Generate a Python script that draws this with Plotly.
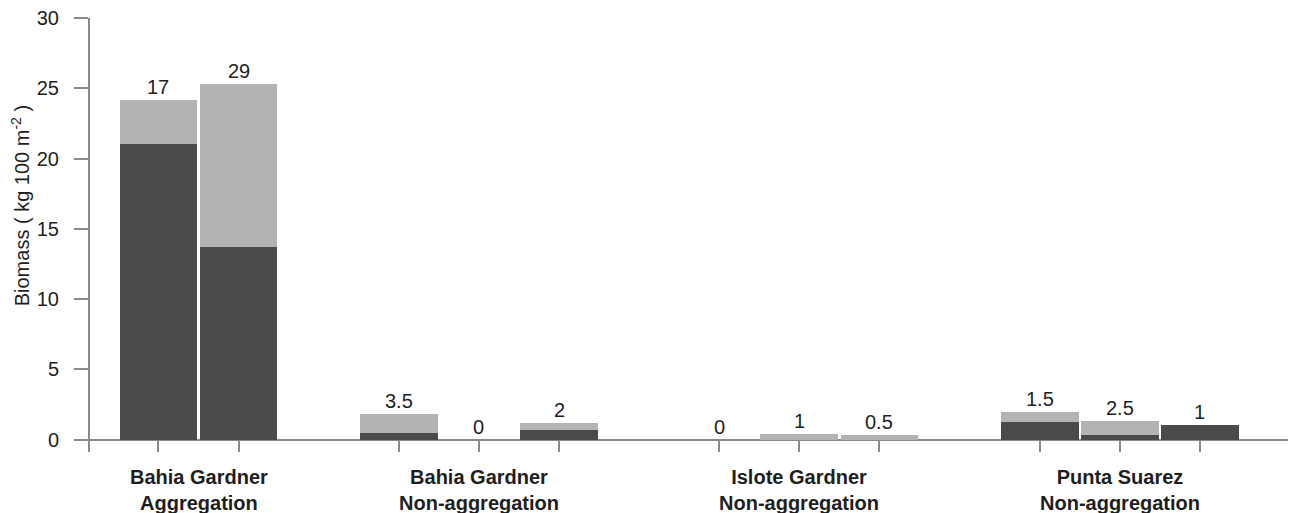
import plotly.graph_objects as go

# ---- data ----
group_labels = ["Bahia Gardner<br>Aggregation", "Bahia Gardner<br>Non-aggregation",
                "Islote Gardner<br>Non-aggregation", "Punta Suarez<br>Non-aggregation"]
bars_per_group = [2, 3, 3, 3]
dark_values = [21.05, 13.7, 0.48, 0.0, 0.65, 0.0, 0.0, 0.0, 1.25, 0.33, 1.0]
light_values = [3.1, 11.6, 1.32, 0.0, 0.5, 0.0, 0.41, 0.32, 0.7, 1.02, 0.0]
bar_labels = ["17", "29", "3.5", "0", "2", "0", "1", "0.5", "1.5", "2.5", "1"]
y_ticks = [0, 5, 10, 15, 20, 25, 30]

# ---- positions (one empty slot between groups) ----
xpos = []
group_centers = []
start = 0
for n in bars_per_group:
    slots = [start + i for i in range(n)]
    xpos.extend(slots)
    group_centers.append(sum(slots) / n)
    start += n + 1

totals = [d + l for d, l in zip(dark_values, light_values)]

DARK = "#4a4a4a"
LIGHT = "#b3b3b3"
AXIS = "#8a8a8a"
TXT = "#1e1e1e"
FONT = "Liberation Sans, Arial, sans-serif"

fig = go.Figure()
fig.add_trace(go.Bar(x=xpos, y=dark_values, marker=dict(color=DARK, line=dict(width=0)),
                     width=0.97, showlegend=False))
fig.add_trace(go.Bar(x=xpos, y=light_values, marker=dict(color=LIGHT, line=dict(width=0)),
                     width=0.97, showlegend=False))

annotations = []
for x, t, lab in zip(xpos, totals, bar_labels):
    annotations.append(dict(x=x, y=t, text=lab, showarrow=False, xanchor="center",
                            yanchor="bottom", yshift=0,
                            font=dict(family=FONT, size=20, color=TXT)))
for xc, g in zip(group_centers, group_labels):
    annotations.append(dict(x=xc, y=0, xref="x", yref="paper", text="<b>" + g + "</b>",
                            showarrow=False, xanchor="center", yanchor="top", yshift=-12,
                            font=dict(family=FONT, size=20, color=TXT)))
annotations.append(dict(x=-0.0582, xref="paper", y=16.6, yref="y",
                        text="Biomass ( kg 100 m<sup>-2</sup> )", textangle=-90,
                        showarrow=False, xanchor="center", yanchor="middle",
                        font=dict(family=FONT, size=20, color=TXT)))

# page body has an 8px margin, so the figure is sized/offset for it
fig.update_layout(
    barmode="stack",
    width=1288, height=505,
    margin=dict(l=82, r=4, t=10, b=61, autoexpand=False),
    plot_bgcolor="white", paper_bgcolor="white",
    font=dict(family=FONT, size=20, color=TXT),
    annotations=annotations,
    xaxis=dict(range=[-0.855, 14.15], tickvals=xpos, showticklabels=False,
               ticks="inside", ticklen=11, tickwidth=1.5, tickcolor=AXIS, automargin=False,
               showline=False, showgrid=False, zeroline=False),
    yaxis=dict(range=[-0.89, 30], tickvals=y_ticks, ticks="outside", ticklen=14,
               tickwidth=1.5, tickcolor=AXIS, showline=True, linecolor=AXIS, linewidth=2,
               showgrid=False, zeroline=True, zerolinecolor=AXIS, zerolinewidth=2,
               ticklabelstandoff=11, ticklabeloverflow="allow", automargin=False,
               tickfont=dict(family=FONT, size=20, color=TXT)),
)

fig.write_html("out.html")
